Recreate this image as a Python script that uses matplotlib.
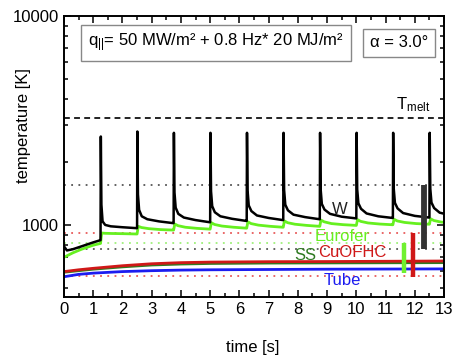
import matplotlib
matplotlib.use("Agg")
import matplotlib.pyplot as plt
from matplotlib.ticker import MultipleLocator, LogLocator, NullFormatter, FixedFormatter, FixedLocator

plt.rcParams['font.family'] = ['Liberation Sans', 'DejaVu Sans']
plt.rcParams['mathtext.fontset'] = 'custom'
plt.rcParams['mathtext.rm'] = 'Liberation Sans'
plt.rcParams['mathtext.it'] = 'Liberation Sans:italic'

# --- data ---
# W: heating before the first ELM
w_pre_t = [0.0, 0.1, 0.3, 0.6, 1.0, 1.24]
w_pre_T = [790, 755, 765, 790, 825, 845]
# ELM spike times (0.8 Hz)
spike_t = [1.25, 2.5, 3.75, 5.0, 6.25, 7.5, 8.75, 10.0, 11.25, 12.5]
# sample offsets inside one period for W
w_dt = [0.01, 0.03, 0.07, 0.16, 0.35, 0.75, 1.24]
w_period = [
    [2650, 1250, 1040, 1000, 985, 975, 965],
    [2800, 1400, 1180, 1100, 1065, 1040, 1020],
    [2760, 1430, 1210, 1130, 1085, 1055, 1030],
    [2760, 1450, 1230, 1150, 1100, 1070, 1045],
    [2760, 1460, 1240, 1165, 1110, 1080, 1055],
    [2760, 1470, 1250, 1175, 1120, 1090, 1065],
    [2760, 1480, 1260, 1185, 1130, 1095, 1075],
    [2760, 1480, 1270, 1195, 1135, 1100, 1080],
    [2760, 1490, 1275, 1200, 1140, 1105, 1085],
    [2760, 1490, 1280, 1205, 1145, 1110, 1090],
]
# Eurofer
eu_pre_t = [0.0, 0.3, 0.6, 1.0, 1.24]
eu_pre_T = [700, 735, 765, 800, 815]
eu_dt = [0.04, 0.15, 0.4, 0.8, 1.24]
eu_period = [
    [915, 912, 910, 908, 905],
    [985, 972, 960, 950, 945],
    [1010, 992, 975, 963, 955],
    [1025, 1005, 988, 975, 965],
    [1035, 1015, 998, 985, 975],
    [1045, 1025, 1008, 995, 985],
    [1055, 1035, 1015, 1003, 995],
    [1060, 1040, 1022, 1010, 1002],
    [1065, 1045, 1028, 1015, 1008],
    [1070, 1050, 1032, 1020, 1012],
]
# slow components
slow_t = [0, 0.5, 1, 2, 3, 4, 5, 7, 9, 11, 13]
cu_T = [598, 610, 620, 638, 652, 660, 664, 667, 668, 670, 672]
ss_T = [594, 604, 614, 630, 643, 650, 654, 657, 658, 659, 660]
tube_T = [565, 580, 588, 598, 604, 608, 610, 612, 614, 615, 616]

# limits (dotted lines) and bars
t_melt = 3250
lim_gray = [1550, 765]
lim_red = [920, 568]
lim_green = [822]
bar_t = [11.64, 11.95, 12.3]
bar_lo = [592, 566, 765]
bar_hi = [822, 918, 1553]

col_w = 'black'
col_eu = '#66f020'
col_ss = '#2f7a22'
col_cu = '#d01818'
col_tube = '#1c1cf0'


def assemble(pre_t, pre_T, dt, period):
    t, T = list(pre_t), list(pre_T)
    for ts, vals in zip(spike_t, period):
        t.append(ts)
        T.append(T[-1])
        for d, v in zip(dt, vals):
            t.append(ts + d)
            T.append(v)
    return t, T


w_t, w_T = assemble(w_pre_t, w_pre_T, w_dt, w_period)
eu_t, eu_T = assemble(eu_pre_t, eu_pre_T, eu_dt, eu_period)

fig = plt.figure(figsize=(4.59, 3.55), dpi=100)
ax = fig.add_axes([0.1394, 0.1634, 0.828, 0.7915])
ax.set_yscale('log')
ax.set_xlim(0, 13)
ax.set_ylim(452, 10000)

# dotted / dashed reference levels
for v in lim_gray:
    ax.axhline(v, color='#555555', ls=(0, (1, 3)), lw=1.3)
for v in lim_red:
    ax.axhline(v, color='#e85a5a', ls=(0, (1, 3)), lw=1.3)
for v in lim_green:
    ax.axhline(v, color='#9ef07a', ls=(0, (1, 3)), lw=1.3)
ax.axhline(t_melt, color='#222222', ls=(0, (3, 2.2)), lw=1.4)

ax.plot(slow_t, tube_T, color=col_tube, lw=2)
ax.plot(slow_t, ss_T, color=col_ss, lw=2)
ax.plot(slow_t, cu_T, color=col_cu, lw=2)
ax.plot(eu_t, eu_T, color=col_eu, lw=2)
ax.plot(w_t, w_T, color=col_w, lw=1.8)

ax.vlines(bar_t[0], bar_lo[0], bar_hi[0], color='#70f030', lw=3.2)
ax.vlines(bar_t[1], bar_lo[1], bar_hi[1], color='#d01818', lw=3.2)
ax.vlines(bar_t[2], bar_lo[2], bar_hi[2], color='#333333', lw=4.2)

fs = 12
ax.text(9.45, 1190, 'W', color='#222222', fontsize=fs, ha='center', va='center')
ax.text(9.52, 877, 'Eurofer', color=col_eu, fontsize=fs, ha='center', va='center')
ax.text(8.25, 718, 'SS', color=col_ss, fontsize=fs, ha='center', va='center')
ax.text(9.86, 735, 'CuOFHC', color=col_cu, fontsize=fs, ha='center', va='center')
ax.text(9.52, 541, 'Tube', color=col_tube, fontsize=fs, ha='center', va='center')
ax.text(11.95, 3380, r'T$_{\mathrm{melt}}$', color='black', fontsize=fs, ha='center', va='bottom')

box = dict(boxstyle='square,pad=0.4', fc='white', ec='#888888', lw=1)
ax.text(0.40, 0.904, r'q$_{||}$= 50 MW/m² + 0.8 Hz* 20 MJ/m²', transform=ax.transAxes,
        fontsize=fs, ha='center', va='center', bbox=box)
ax.text(0.882, 0.904, 'α = 3.0°', transform=ax.transAxes,
        fontsize=fs, ha='center', va='center', bbox=box)

ax.xaxis.set_major_locator(MultipleLocator(1))
ax.xaxis.set_minor_locator(MultipleLocator(0.5))
ax.yaxis.set_major_locator(FixedLocator([1000, 10000]))
ax.yaxis.set_major_formatter(FixedFormatter(['1000', '10000']))
ax.yaxis.set_minor_locator(LogLocator(base=10, subs=range(2, 10)))
ax.yaxis.set_minor_formatter(NullFormatter())
ax.tick_params(which='both', direction='in', top=True, right=True, labelsize=fs, width=1.1)
ax.tick_params(which='major', length=5)
ax.tick_params(which='minor', length=3)
for s in ax.spines.values():
    s.set_linewidth(1.4)

ax.set_xlabel('time [s]', fontsize=fs)
ax.set_ylabel('temperature [K]', fontsize=fs)
ax.xaxis.set_label_coords(0.497, -0.153)
ax.yaxis.set_label_coords(-0.087, 0.61)

fig.savefig('out.png', dpi=100)
